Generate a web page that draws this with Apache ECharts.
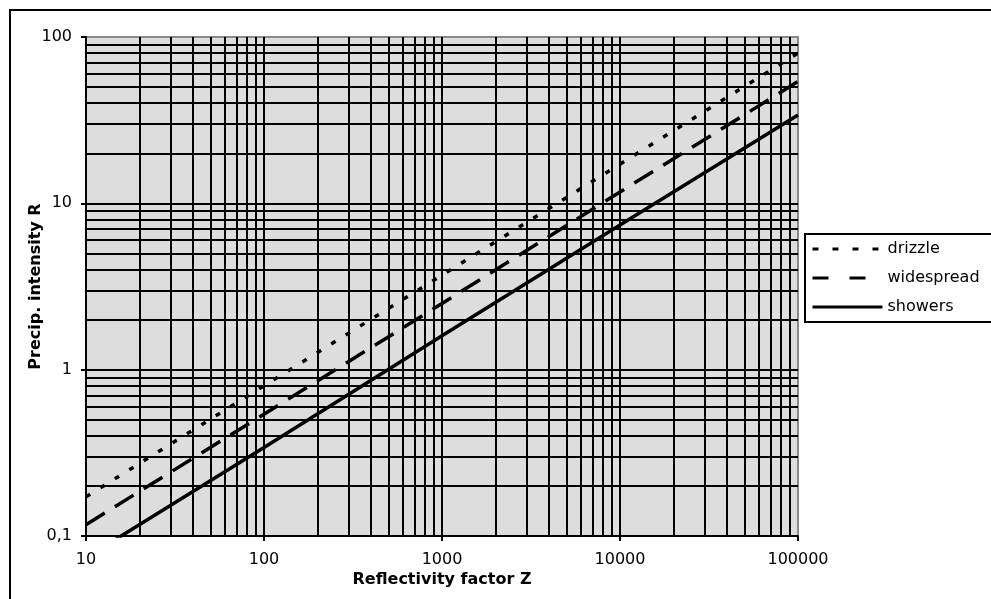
<!DOCTYPE html>
<html>
<head>
<meta charset="utf-8">
<script src="https://cdn.jsdelivr.net/npm/echarts@6/dist/echarts.min.js"></script>
<style>
html,body{margin:0;padding:0;background:#fff;}
#chart{width:991px;height:599px;}
</style>
</head>
<body>
<div id="chart"></div>
<script>
// Data
const zValues    = [10, 100, 1000, 10000, 100000];
const drizzle    = [0.172, 0.80, 3.7, 17.2, 80];
const widespread = [0.117, 0.54, 2.5, 11.7, 54];
const showers    = [0.074, 0.34, 1.6, 7.4, 34];
const seriesNames = ['drizzle', 'widespread', 'showers'];

// grid line positions (1..9 per decade)
const mantissas = [2, 3, 4, 5, 6, 7, 8, 9];
const xDecades = [10, 100, 1000, 10000];
const yDecades = [0.1, 1, 10];

const xMinor = [];
xDecades.forEach(d => mantissas.forEach(m => xMinor.push(+(d * m).toPrecision(6))));
const yMinor = [];
yDecades.forEach(d => mantissas.forEach(m => yMinor.push(+(d * m).toPrecision(6))));

const pairs = arr => zValues.map((z, i) => [z, arr[i]]);

const FONT = 'DejaVu Sans';
const chart = echarts.init(document.getElementById('chart'), null, {renderer: 'canvas'});

const gridLines = xMinor.map(v => ({xAxis: v})).concat(yMinor.map(v => ({yAxis: v})));
const hiddenSym = {opacity: 0};

chart.setOption({
  animation: false,
  backgroundColor: '#ffffff',
  textStyle: {fontFamily: FONT},
  grid: {
    left: 86, top: 37, right: 193, bottom: 63,
    show: true, backgroundColor: '#dddddd', borderColor: '#8a8a8a', borderWidth: 2
  },
  graphic: [
    {type: 'rect', shape: {x: 10, y: 10, width: 1200, height: 1200},
     style: {fill: 'none', stroke: '#000', lineWidth: 2}, z: 0, silent: true},
    {type: 'rect', shape: {x: 805, y: 234, width: 300, height: 88},
     style: {fill: '#fff', stroke: '#000', lineWidth: 2}, z: 0, silent: true}
  ],
  legend: {
    orient: 'vertical',
    left: 811, top: 241,
    padding: 0,
    itemWidth: 70, itemHeight: 14, itemGap: 13,
    textStyle: {fontFamily: FONT, fontSize: 16, lineHeight: 16, color: '#000'},
    data: [
      {name: 'drizzle', itemStyle: hiddenSym, lineStyle: {type: [6, 14], width: 3, color: '#000'}},
      {name: 'widespread', itemStyle: hiddenSym, lineStyle: {type: [16, 21], width: 3, color: '#000'}},
      {name: 'showers', itemStyle: hiddenSym, lineStyle: {type: 'solid', width: 3, color: '#000'}}
    ]
  },
  xAxis: {
    type: 'log', logBase: 10, min: 10, max: 100000, splitNumber: 4,
    name: 'Reflectivity factor Z', nameLocation: 'middle', nameGap: 36, nameMoveOverlap: false,
    nameTextStyle: {fontFamily: FONT, fontSize: 16, fontWeight: 'bold', color: '#000'},
    axisLine: {show: true, onZero: false, lineStyle: {color: '#000', width: 2}},
    axisTick: {show: true, length: 5, lineStyle: {color: '#000', width: 2}},
    axisLabel: {fontFamily: FONT, fontSize: 16, color: '#000', margin: 16,
      formatter: v => String(Math.round(v))},
    splitLine: {show: true, showMinLine: false, showMaxLine: false, lineStyle: {color: '#000', width: 2}}
  },
  yAxis: {
    type: 'log', logBase: 10, min: 0.1, max: 100, splitNumber: 3,
    name: 'Precip. intensity R', nameLocation: 'middle', nameGap: 42, nameRotate: 90, nameMoveOverlap: false,
    nameTextStyle: {fontFamily: FONT, fontSize: 16, fontWeight: 'bold', color: '#000'},
    axisLine: {show: true, onZero: false, lineStyle: {color: '#000', width: 2}},
    axisTick: {show: true, length: 5, lineStyle: {color: '#000', width: 2}},
    axisLabel: {fontFamily: FONT, fontSize: 16, color: '#000', margin: 14,
      formatter: v => String(v).replace('.', ',')},
    splitLine: {show: true, showMinLine: false, showMaxLine: false, lineStyle: {color: '#000', width: 2}}
  },
  series: [
    {
      name: '__grid', type: 'line', data: [], z: 1, silent: true,
      markLine: {
        silent: true, symbol: ['none', 'none'], label: {show: false},
        lineStyle: {color: '#000', width: 2, type: 'solid'},
        emphasis: {disabled: true},
        animation: false,
        data: gridLines
      }
    },
    {name: seriesNames[0], type: 'line', data: pairs(drizzle), z: 5, symbol: 'none', showSymbol: false,
     lineStyle: {color: '#000', width: 3.5, type: [5, 12], cap: 'butt'}, itemStyle: {color: '#000'}},
    {name: seriesNames[1], type: 'line', data: pairs(widespread), z: 5, symbol: 'none', showSymbol: false,
     lineStyle: {color: '#000', width: 3.5, type: [22, 12], cap: 'butt'}, itemStyle: {color: '#000'}},
    {name: seriesNames[2], type: 'line', data: pairs(showers), z: 5, symbol: 'none', showSymbol: false,
     lineStyle: {color: '#000', width: 3.5, type: 'solid'}, itemStyle: {color: '#000'}}
  ]
});
</script>
</body>
</html>
